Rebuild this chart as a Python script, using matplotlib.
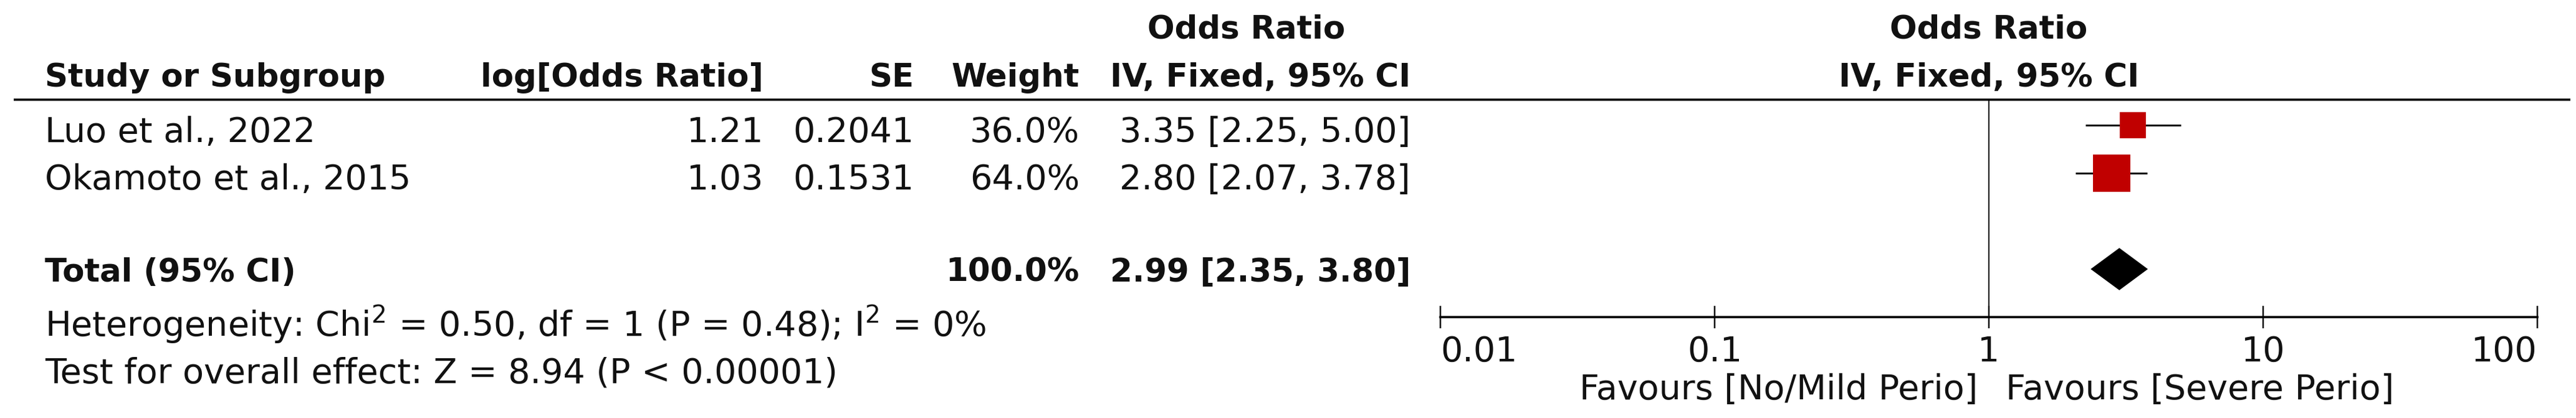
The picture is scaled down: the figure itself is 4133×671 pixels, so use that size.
import matplotlib
matplotlib.use("Agg")
import matplotlib.pyplot as plt
import numpy as np

# study data
studies = ["Luo et al., 2022", "Okamoto et al., 2015"]
log_or = ["1.21", "1.03"]
se = ["0.2041", "0.1531"]
weight = [36.0, 64.0]
or_est = [3.35, 2.80]
or_lo = [2.25, 2.07]
or_hi = [5.00, 3.78]

total_label = "Total (95% CI)"
total_weight = 100.0
total_est = 2.99
total_lo = 2.35
total_hi = 3.80

het_text = "Heterogeneity: Chi$^2$ = 0.50, df = 1 (P = 0.48); I$^2$ = 0%"
test_text = "Test for overall effect: Z = 8.94 (P < 0.00001)"

tick_vals = [0.01, 0.1, 1, 10, 100]
tick_labels = ["0.01", "0.1", "1", "10", "100"]
favours_left = "Favours [No/Mild Perio]"
favours_right = "Favours [Severe Perio]"

W, H = 4133, 671
DPI = 100
PX = 72.0 / DPI  # points per pixel

plt.rcParams['font.family'] = ['DejaVu Sans']
FS = 40
TXT = '#111111'

# bold in the original is a bit narrower than DejaVu bold, so go slightly smaller
bold = dict(fontsize=37, fontweight='bold', color=TXT, va='baseline')
norm = dict(fontsize=FS, color=TXT, va='baseline')

fig = plt.figure(figsize=(W / DPI, H / DPI), dpi=DPI)

# overlay axes in pixel coordinates for the table
tab = fig.add_axes([0, 0, 1, 1])
tab.set_xlim(0, W)
tab.set_ylim(H, 0)
tab.axis('off')

# forest plot axes
x_left, x_right = 2311, 4071
y_top, y_bot = 160, 509
fa = fig.add_axes([x_left / W, 1 - y_bot / H, (x_right - x_left) / W, (y_bot - y_top) / H])
fa.set_xscale('log')
fa.set_xlim(0.01, 100)
fa.set_ylim(4.0, -0.53)
fa.patch.set_alpha(0)
for s in ['top', 'left', 'right']:
    fa.spines[s].set_visible(False)
fa.spines['bottom'].set_linewidth(3.5 * PX)
fa.set_yticks([])
fa.set_xticks(tick_vals)
fa.set_xticklabels(tick_labels)
fa.minorticks_off()
fa.tick_params(axis='x', direction='inout', length=36 * PX, width=2.5 * PX,
               labelsize=FS, pad=8, colors='black', labelcolor=TXT)
tl = fa.get_xticklabels()
tl[0].set_ha('left')
tl[-1].set_ha('right')

# line of no effect
fa.axvline(1, color='black', lw=2 * PX)

rows = [0, 1]
total_row = 3
fa.hlines(rows, or_lo, or_hi, color='#111111', lw=3 * PX)
for r, est, w in zip(rows, or_est, weight):
    side = 17.9 + 0.643 * w
    fa.plot(est, r, marker='s', markersize=side * PX, color='#c00000', markeredgewidth=0)

h = 0.44
fa.fill([total_lo, total_est, total_hi, total_est],
        [total_row, total_row - h, total_row, total_row + h], color='black', lw=0)

# header rule
tab.plot([22, 4124], [160, 160], color='black', lw=3.5 * PX, solid_capstyle='butt')

# headers
tab.text(2000, 62, "Odds Ratio", ha='center', **bold)
tab.text(3191, 62, "Odds Ratio", ha='center', **bold)
tab.text(72, 139, "Study or Subgroup", ha='left', **bold)
tab.text(1225, 139, "log[Odds Ratio]", ha='right', **bold)
tab.text(1467, 139, "SE", ha='right', **bold)
tab.text(1732, 139, "Weight", ha='right', **bold)
tab.text(2263, 139, "IV, Fixed, 95% CI", ha='right', **bold)
tab.text(3191, 139, "IV, Fixed, 95% CI", ha='center', **bold)

# study rows
for i, r in enumerate(rows):
    yb = 228 + 76 * r
    tab.text(72, yb, studies[i], ha='left', **norm)
    tab.text(1225, yb, log_or[i], ha='right', **norm)
    tab.text(1467, yb, se[i], ha='right', **norm)
    tab.text(1732, yb, f"{weight[i]:.1f}%", ha='right', **norm)
    tab.text(2263, yb, f"{or_est[i]:.2f} [{or_lo[i]:.2f}, {or_hi[i]:.2f}]", ha='right', **norm)

# total row
tab.text(72, 452, total_label, ha='left', **bold)
tab.text(1732, 452, f"{total_weight:.1f}%", ha='right', **bold)
tab.text(2263, 452, f"{total_est:.2f} [{total_lo:.2f}, {total_hi:.2f}]", ha='right', **bold)

tab.text(72, 540, het_text, ha='left', **norm)
tab.text(72, 615, test_text, ha='left', **norm)

tab.text(3173, 641, favours_left, ha='right', **norm)
tab.text(3218, 641, favours_right, ha='left', **norm)

fig.savefig("out.png", dpi=DPI)
